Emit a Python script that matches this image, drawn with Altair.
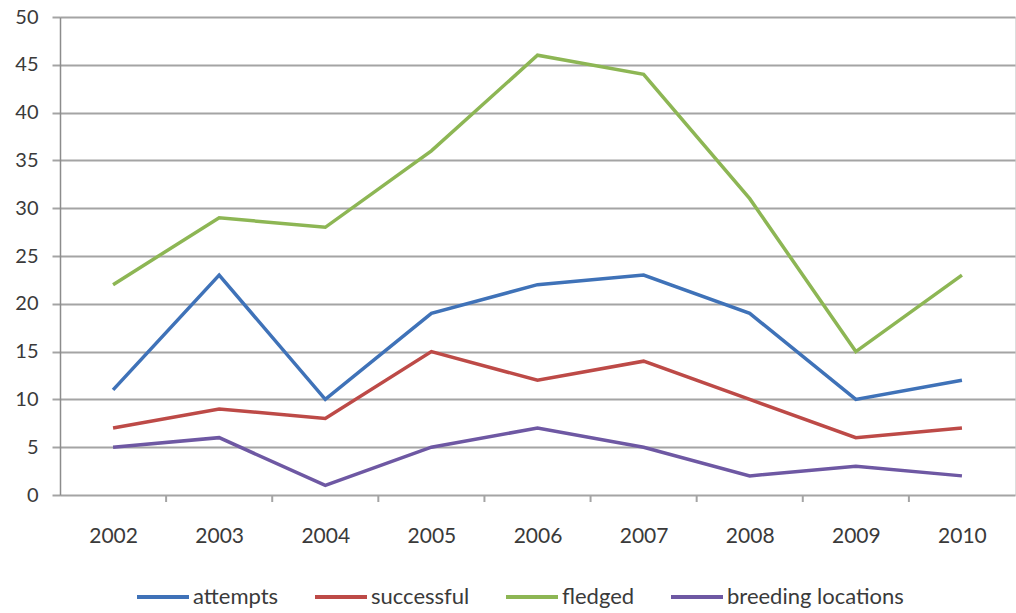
import altair as alt
import pandas as pd

# Breeding season figures per year
years = [2002, 2003, 2004, 2005, 2006, 2007, 2008, 2009, 2010]
attempts = [11, 23, 10, 19, 22, 23, 19, 10, 12]
successful = [7, 9, 8, 15, 12, 14, 10, 6, 7]
fledged = [22, 29, 28, 36, 46, 44, 31, 15, 23]
breeding_locations = [5, 6, 1, 5, 7, 5, 2, 3, 2]

series_names = ["attempts", "successful", "fledged", "breeding locations"]
series_colors = ["#3f72b8", "#bd4a47", "#8db654", "#6e58a3"]
y_ticks = [0, 5, 10, 15, 20, 25, 30, 35, 40, 45, 50]
# category boundaries between years, where the x-axis tick marks sit
boundaries = [2002.5, 2003.5, 2004.5, 2005.5, 2006.5, 2007.5, 2008.5, 2009.5]

rows = []
for name, vals in zip(series_names, [attempts, successful, fledged, breeding_locations]):
    for yr, v in zip(years, vals):
        rows.append({"year": yr, "value": v, "series": name})
df = pd.DataFrame(rows)

W, H = 955, 478
FONT = "Lato"
TXT = "#3a3a3a"
GRID = "#a4a4a4"

x_scale = alt.Scale(domain=[2001.5, 2010.5], nice=False, zero=False)

lines = alt.Chart(df).mark_line(strokeWidth=3.5, strokeJoin="miter").encode(
    x=alt.X("year:Q", scale=x_scale,
            axis=alt.Axis(values=years, format="d", title=None, grid=False,
                          ticks=False, domain=False, labelFontSize=21,
                          labelFont=FONT, labelColor=TXT, labelPadding=30,
                          labelFlush=False)),
    y=alt.Y("value:Q", scale=alt.Scale(domain=[0, 50], nice=False),
            axis=alt.Axis(values=y_ticks, title=None, grid=True, gridColor=GRID,
                          gridWidth=2, tickColor=GRID, tickWidth=2, tickSize=8,
                          domainColor="#8c8c8c", domainWidth=1.5,
                          labelFontSize=20, labelFont=FONT, labelColor=TXT,
                          labelPadding=14)),
    color=alt.Color("series:N",
                    scale=alt.Scale(domain=series_names, range=series_colors),
                    legend=alt.Legend(title=None, orient="none", direction="horizontal",
                                      legendX=75, legendY=552, symbolType="stroke",
                                      symbolSize=2704, symbolStrokeWidth=4,
                                      labelFontSize=22, labelFont=FONT,
                                      labelColor=TXT, labelOffset=2, labelLimit=400,
                                      columnPadding=28, padding=0)),
    order="year:Q",
)

tick_df = pd.DataFrame({"b": boundaries})
ticks = alt.Chart(tick_df).mark_rule(color=GRID, strokeWidth=2).encode(
    x=alt.X("b:Q", scale=x_scale),
    y=alt.value(H),
    y2=alt.value(H + 7),
)

chart = alt.layer(ticks, lines).properties(
    width=W, height=H,
    autosize=alt.AutoSizeParams(type="none"),
    padding={"left": 60, "top": 17, "right": 1, "bottom": 118},
).configure_view(stroke=None).configure(background="white")

chart.save("out.html", embed_options={"renderer": "svg", "actions": False})
